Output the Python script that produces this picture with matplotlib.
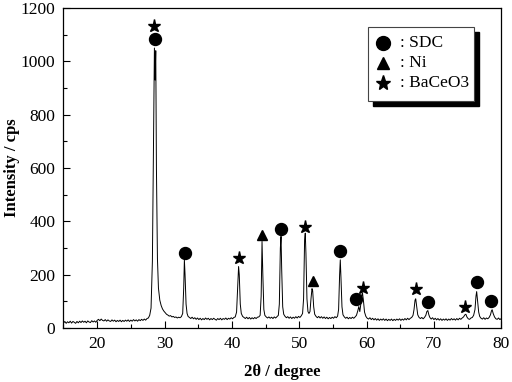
import numpy as np
import matplotlib
matplotlib.use('Agg')
import matplotlib.pyplot as plt
from matplotlib.patches import Rectangle

plt.rcParams['font.family'] = ['Liberation Serif', 'DejaVu Serif']

# XRD trace (2theta in degrees, intensity in cps)
two_theta = [
    15.0, 15.2, 15.4, 15.6, 15.8, 16.0, 16.2, 16.4, 16.6, 16.8, 17.0, 17.2, 17.4, 17.6, 17.8,
    18.0, 18.2, 18.4, 18.6, 18.8, 19.0, 19.2, 19.4, 19.6, 19.8, 20.0, 20.2, 20.4, 20.6, 20.8,
    21.0, 21.2, 21.4, 21.6, 21.8, 22.0, 22.2, 22.4, 22.6, 22.8, 23.0, 23.2, 23.4, 23.6, 23.8,
    24.0, 24.2, 24.4, 24.6, 24.8, 25.0, 25.2, 25.4, 25.6, 25.8, 26.0, 26.2, 26.4, 26.6, 26.8,
    27.0, 27.2, 27.4, 27.6, 27.8, 28.0, 28.2, 28.35, 28.5, 28.6, 28.7, 28.8, 28.95, 29.1, 29.3,
    29.5, 29.7, 29.9, 30.1, 30.3, 30.5, 30.7, 30.9, 31.1, 31.3, 31.5, 31.7, 31.9, 32.1, 32.3,
    32.5, 32.7, 32.85, 32.95, 33.05, 33.2, 33.35, 33.5, 33.7, 33.9, 34.1, 34.3, 34.5, 34.7, 34.9,
    35.1, 35.3, 35.5, 35.7, 35.9, 36.1, 36.3, 36.5, 36.7, 36.9, 37.1, 37.3, 37.5, 37.7, 37.9,
    38.1, 38.3, 38.5, 38.7, 38.9, 39.1, 39.3, 39.5, 39.7, 39.9, 40.1, 40.3, 40.5, 40.7, 40.85,
    41.0, 41.1, 41.25, 41.4, 41.6, 41.8, 42.0, 42.2, 42.4, 42.6, 42.8, 43.0, 43.2, 43.4, 43.6,
    43.8, 44.0, 44.2, 44.35, 44.48, 44.6, 44.75, 44.9, 45.1, 45.3, 45.5, 45.7, 45.9, 46.1, 46.3,
    46.5, 46.7, 46.9, 47.05, 47.2, 47.3, 47.4, 47.55, 47.7, 47.9, 48.1, 48.3, 48.5, 48.7, 48.9,
    49.1, 49.3, 49.5, 49.7, 49.9, 50.1, 50.3, 50.5, 50.65, 50.8, 50.9, 51.0, 51.15, 51.3, 51.45,
    51.6, 51.75, 51.9, 52.0, 52.15, 52.3, 52.5, 52.7, 52.9, 53.1, 53.3, 53.5, 53.7, 53.9, 54.1,
    54.3, 54.5, 54.7, 54.9, 55.1, 55.3, 55.5, 55.7, 55.85, 56.0, 56.1, 56.2, 56.35, 56.5, 56.7,
    56.9, 57.1, 57.3, 57.5, 57.7, 57.9, 58.1, 58.3, 58.5, 58.7, 58.85, 59.0, 59.15, 59.3, 59.4,
    59.55, 59.7, 59.9, 60.1, 60.3, 60.5, 60.7, 60.9, 61.1, 61.3, 61.5, 61.7, 61.9, 62.1, 62.3,
    62.5, 62.7, 62.9, 63.1, 63.3, 63.5, 63.7, 63.9, 64.1, 64.3, 64.5, 64.7, 64.9, 65.1, 65.3,
    65.5, 65.7, 65.9, 66.1, 66.3, 66.5, 66.7, 66.9, 67.05, 67.2, 67.3, 67.45, 67.6, 67.8, 68.0,
    68.2, 68.4, 68.6, 68.8, 68.95, 69.1, 69.25, 69.4, 69.6, 69.8, 70.0, 70.2, 70.4, 70.6, 70.8,
    71.0, 71.2, 71.4, 71.6, 71.8, 72.0, 72.2, 72.4, 72.6, 72.8, 73.0, 73.2, 73.4, 73.6, 73.8,
    74.0, 74.2, 74.4, 74.6, 74.75, 74.9, 75.1, 75.3, 75.5, 75.7, 75.9, 76.1, 76.25, 76.35, 76.5,
    76.65, 76.8, 77.0, 77.2, 77.4, 77.6, 77.8, 78.0, 78.2, 78.4, 78.55, 78.65, 78.8, 79.0, 79.2,
    79.4, 79.6, 79.8, 80.0,
]
counts = [
    19, 25, 18, 24, 20, 26, 19, 25, 22, 18, 25, 20, 26, 21, 27,
    22, 26, 20, 27, 23, 21, 28, 23, 27, 22, 29, 33, 28, 34, 29,
    27, 32, 26, 31, 27, 25, 31, 26, 30, 24, 29, 25, 30, 24, 29,
    25, 30, 26, 31, 25, 30, 26, 32, 27, 31, 26, 32, 28, 33, 29,
    34, 30, 36, 38, 48, 75, 250, 650, 1050, 930, 1040, 600, 260, 150, 105,
    85, 72, 64, 58, 52, 49, 45, 47, 42, 44, 40, 42, 38, 41, 39,
    43, 55, 150, 256, 200, 90, 55, 44, 40, 36, 41, 35, 39, 33, 38,
    32, 37, 31, 36, 32, 38, 33, 37, 31, 36, 32, 37, 33, 30, 36,
    32, 37, 31, 36, 33, 38, 32, 37, 34, 39, 35, 40, 42, 60, 150,
    231, 200, 90, 55, 44, 40, 36, 41, 35, 40, 34, 39, 35, 40, 36,
    41, 42, 48, 120, 325, 200, 70, 48, 42, 38, 42, 37, 41, 36, 42,
    38, 43, 48, 90, 300, 344, 220, 80, 52, 44, 39, 43, 37, 42, 36,
    41, 37, 43, 38, 44, 40, 46, 55, 110, 330, 356, 280, 110, 62, 55,
    62, 110, 148, 140, 80, 52, 44, 39, 44, 38, 43, 37, 42, 36, 41,
    35, 40, 36, 41, 37, 43, 39, 45, 70, 200, 256, 190, 80, 50, 42,
    37, 41, 35, 40, 36, 41, 37, 42, 48, 65, 81, 62, 90, 125, 131,
    100, 60, 44, 37, 34, 39, 32, 37, 31, 36, 30, 35, 29, 34, 30,
    35, 29, 34, 28, 33, 29, 34, 28, 33, 29, 34, 30, 35, 29, 34,
    30, 36, 31, 37, 32, 37, 40, 48, 70, 105, 110, 80, 50, 40, 36,
    40, 35, 40, 48, 62, 66, 50, 40, 34, 39, 32, 37, 31, 36, 30,
    35, 29, 34, 30, 35, 29, 34, 30, 36, 31, 35, 30, 36, 31, 37,
    33, 38, 42, 50, 52, 42, 35, 33, 38, 40, 48, 70, 120, 137, 100,
    60, 44, 37, 34, 39, 33, 38, 35, 40, 50, 65, 69, 55, 42, 35,
    33, 38, 32, 36,
]

# phase markers (position, height of the symbol)
sdc_x = [28.6, 33.0, 47.3, 56.1, 58.4, 69.1, 76.4, 78.5]
sdc_y = [1084, 281, 372, 290, 110, 97, 174, 102]
ni_x = [44.5, 52.0]
ni_y = [350, 175]
bace_x = [28.5, 41.0, 50.9, 59.4, 67.3, 74.6]
bace_y = [1134, 262, 381, 150, 147, 79]

legend_labels = [': SDC', ': Ni', ': BaCeO3']

fig = plt.figure(figsize=(5.12, 3.82), dpi=100)
ax = fig.add_axes([0.124, 0.141, 0.855, 0.838])

ax.plot(two_theta, counts, color='black', lw=0.7)
ax.plot(sdc_x, sdc_y, 'o', color='black', ms=8.6, ls='none')
ax.plot(ni_x, ni_y, '^', color='black', ms=7.5, ls='none')
ax.plot(bace_x, bace_y, '*', color='black', ms=9.5, ls='none')

ax.set_xlim(15, 80)
ax.set_ylim(0, 1200)
ax.set_xticks(np.arange(20, 81, 10))
ax.set_xticks(np.arange(15, 80, 5), minor=True)
ax.set_yticks(np.arange(0, 1201, 200))
ax.set_yticks(np.arange(100, 1200, 200), minor=True)
ax.tick_params(direction='in', labelsize=12.5, length=5, width=0.8, pad=6)
ax.tick_params(which='minor', direction='in', length=3, width=0.8)
ax.set_xlabel('2θ / degree', fontsize=12, fontweight='bold', labelpad=8)
ax.set_ylabel('Intensity / cps', fontsize=12, fontweight='bold')
ax.yaxis.set_label_coords(-0.1, 0.5)
for s in ax.spines.values():
    s.set_linewidth(0.9)

# legend box with a black drop shadow
bx0, by0, bw, bh = 0.696, 0.709, 0.242, 0.232
ax.add_patch(Rectangle((bx0 + 0.0115, by0 - 0.016), bw, bh, transform=ax.transAxes,
                       facecolor='black', edgecolor='black', zorder=5))
ax.add_patch(Rectangle((bx0, by0), bw, bh, transform=ax.transAxes,
                       facecolor='white', edgecolor='#444444', lw=0.8, zorder=6))
rows = [0.891, 0.828, 0.766]
for mk, ms, ry, lab in zip(['o', '^', '*'], [10, 8.5, 11], rows, legend_labels):
    ax.plot([0.73], [ry], marker=mk, color='black', ms=ms, transform=ax.transAxes, zorder=7)
    ax.text(0.768, ry, lab, transform=ax.transAxes, fontsize=12.5, va='center', ha='left', zorder=7)

fig.savefig('out.png', dpi=100)
